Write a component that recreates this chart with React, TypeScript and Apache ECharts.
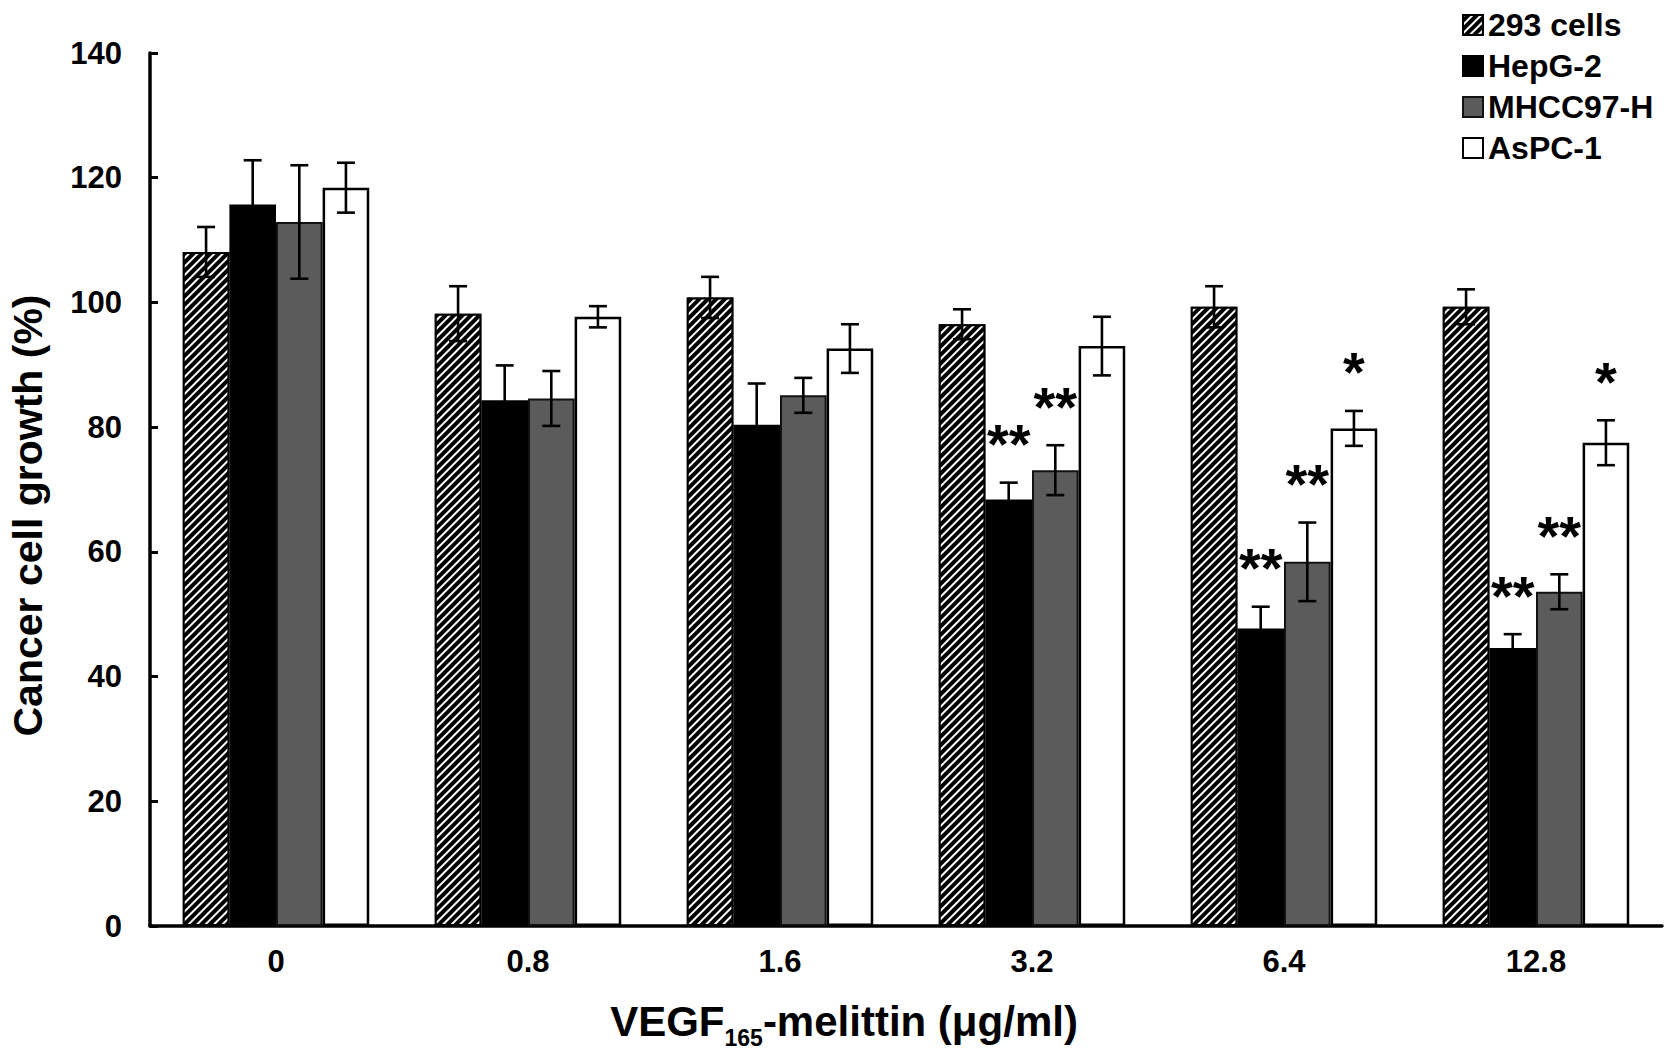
import { useEffect, useRef } from 'react';
import * as echarts from 'echarts';

const categories = ['0', '0.8', '1.6', '3.2', '6.4', '12.8'];
const seriesNames = ['293 cells', 'HepG-2', 'MHCC97-H', 'AsPC-1'];

const cells293 = [108.1, 98.2, 100.8, 96.5, 99.3, 99.3];
const err293 = [4.0, 4.4, 3.3, 2.4, 3.3, 2.8];
const hepg2 = [115.7, 84.3, 80.4, 68.4, 47.7, 44.6];
const errHepg2 = [7.1, 5.6, 6.6, 2.7, 3.5, 2.2];
const mhcc = [112.9, 84.6, 85.1, 73.1, 58.4, 53.6];
const errMhcc = [9.1, 4.4, 2.8, 4.0, 6.3, 2.8];
const aspc = [118.4, 97.7, 92.6, 93.0, 79.8, 77.5];
const errAspc = [4.0, 1.7, 3.9, 4.7, 2.8, 3.6];

const stars293 = ['', '', '', '', '', ''];
const starsHepg2 = ['', '', '', '**', '**', '**'];
const starsMhcc = ['', '', '', '**', '**', '**'];
const starsAspc = ['', '', '', '', '*', '*'];

const yTicks = { min: 0, max: 140, interval: 20 };

const FONT = '"Liberation Sans", Arial, sans-serif';
const GAP = 0.26;

const hatch = {
  symbol: 'rect',
  symbolSize: 1,
  color: '#ffffff',
  dashArrayX: [1, 0],
  dashArrayY: [1.3, 3.4],
  rotation: -Math.PI / 4,
};

const barStyles = [
  { color: '#000000', borderColor: '#000', borderWidth: 2, decal: hatch },
  { color: '#000000', borderColor: '#000', borderWidth: 2 },
  { color: '#5b5b5b', borderColor: '#111', borderWidth: 2 },
  { color: '#ffffff', borderColor: '#000', borderWidth: 2.5 },
];

const means = [cells293, hepg2, mhcc, aspc];
const errs = [err293, errHepg2, errMhcc, errAspc];
const stars = [stars293, starsHepg2, starsMhcc, starsAspc];

function errorRenderer(idx: number) {
  return (params: any, api: any) => {
    const cat = api.value(0);
    const mean = api.value(1);
    const err = api.value(2);
    const star = stars[idx][params.dataIndex];
    const band = api.size([1, 0])[0];
    const bw = (band * (1 - GAP)) / 4;
    const x = api.coord([cat, mean])[0] + (idx - 1.5) * bw;
    const yTop = api.coord([cat, mean + err])[1];
    const yBot = api.coord([cat, mean - err])[1];
    const cap = 9;
    const ls = { stroke: '#000', lineWidth: 2.6 };
    const children: any[] = [
      { type: 'line', shape: { x1: x, y1: yTop, x2: x, y2: yBot }, style: ls },
      { type: 'line', shape: { x1: x - cap, y1: yTop, x2: x + cap, y2: yTop }, style: ls },
      { type: 'line', shape: { x1: x - cap, y1: yBot, x2: x + cap, y2: yBot }, style: ls },
    ];
    if (star) {
      children.push({
        type: 'text',
        x,
        y: yTop - 39,
        style: {
          text: star,
          fill: '#000',
          font: `bold 56px ${FONT}`,
          textAlign: 'center',
          textVerticalAlign: 'middle',
        },
      });
    }
    return { type: 'group', children };
  };
}

export default function App() {
  const ref = useRef<HTMLDivElement>(null);

  useEffect(() => {
    if (!ref.current) return;
    const chart = echarts.init(ref.current, undefined, { renderer: 'svg' });

    const barSeries = seriesNames.map((name, i) => ({
      name,
      type: 'bar',
      data: means[i],
      barGap: '0%',
      barCategoryGap: `${GAP * 100}%`,
      itemStyle: barStyles[i],
      z: 2,
    }));

    const errSeries = seriesNames.map((name, i) => ({
      name: name + ' err',
      type: 'custom',
      renderItem: errorRenderer(i),
      data: means[i].map((m, j) => [j, m, errs[i][j]]),
      encode: { x: 0, y: 1 },
      z: 3,
      silent: true,
    }));

    chart.setOption({
      animation: false,
      backgroundColor: '#ffffff',
      textStyle: { fontFamily: FONT },
      grid: {
        left: 150,
        right: 15,
        top: 53,
        bottom: 135,
        containLabel: false,
        outerBoundsMode: 'none',
      },
      legend: {
        data: seriesNames,
        orient: 'vertical',
        left: 1457,
        top: 4,
        itemWidth: 20,
        itemHeight: 20,
        itemGap: 9,
        icon: 'rect',
        textStyle: { fontSize: 32, fontWeight: 'bold', color: '#000', fontFamily: FONT },
      },
      xAxis: {
        type: 'category',
        data: categories,
        axisLine: { lineStyle: { color: '#000', width: 3.5 } },
        axisTick: { inside: true, length: 9, lineStyle: { color: '#000', width: 3 } },
        axisLabel: { fontSize: 31, fontWeight: 'bold', color: '#000', margin: 20, fontFamily: FONT },
        name: '{a|VEGF}{sub|165}{a|-melittin (μg/ml)}',
        nameLocation: 'middle',
        nameGap: 67,
        nameTextStyle: {
          padding: [0, 124, 0, 0],
          rich: {
            a: { fontSize: 42, fontWeight: 'bold', color: '#000', fontFamily: FONT, lineHeight: 56 },
            sub: {
              fontSize: 23,
              fontWeight: 'bold',
              color: '#000',
              fontFamily: FONT,
              verticalAlign: 'bottom',
              lineHeight: 20,
            },
          },
        },
      },
      yAxis: {
        type: 'value',
        min: yTicks.min,
        max: yTicks.max,
        interval: yTicks.interval,
        splitLine: { show: false },
        axisLine: { show: true, lineStyle: { color: '#000', width: 3.5 } },
        axisTick: { show: true, inside: true, length: 8, lineStyle: { color: '#000', width: 3 } },
        axisLabel: { fontSize: 31, fontWeight: 'bold', color: '#000', margin: 28, fontFamily: FONT },
        name: 'Cancer cell growth (%)',
        nameLocation: 'middle',
        nameGap: 102,
        nameTextStyle: {
          fontSize: 41,
          fontWeight: 'bold',
          color: '#000',
          fontFamily: FONT,
          padding: [0, 52, 0, 0],
        },
      },
      series: [...barSeries, ...errSeries],
    });

    return () => chart.dispose();
  }, []);

  return (
    <div
      ref={ref}
      style={{ position: 'fixed', left: 0, top: 0, width: 1677, height: 1061, background: '#fff' }}
    />
  );
}
